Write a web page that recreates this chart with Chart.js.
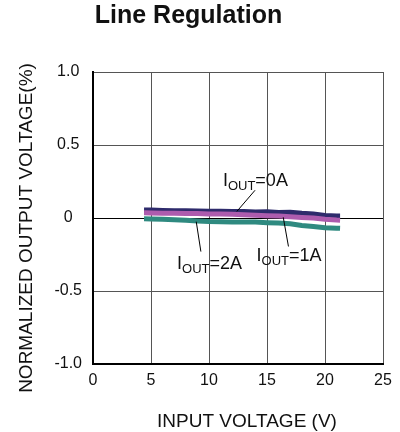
<!DOCTYPE html>
<html>
<head>
<meta charset="utf-8">
<script src="https://cdn.jsdelivr.net/npm/chart.js@4"></script>
<style>
  html, body { margin: 0; padding: 0; background: #fff; }
  canvas { display: block; }
</style>
</head>
<body>
<canvas id="canvas" width="400" height="432"></canvas>
<script>
'use strict';

// input voltage (V)
const vin = [4.4, 5, 6, 7, 8, 9, 10, 11, 12, 13, 14, 15, 16, 17, 18, 19, 20, 21, 21.3];
// normalized output voltage (%)
const iout0A = [0.055, 0.055, 0.052, 0.050, 0.050, 0.048, 0.047, 0.046, 0.044, 0.045, 0.041, 0.043, 0.038, 0.040, 0.032, 0.028, 0.018, 0.014, 0.014];
const iout1A = [0.036, 0.035, 0.033, 0.032, 0.031, 0.030, 0.028, 0.027, 0.025, 0.022, 0.019, 0.016, 0.013, 0.008, 0.004, 0.000, -0.008, -0.014, -0.015];
const iout2A = [-0.005, -0.006, -0.008, -0.012, -0.016, -0.020, -0.024, -0.026, -0.027, -0.028, -0.028, -0.032, -0.035, -0.040, -0.052, -0.058, -0.066, -0.070, -0.071];

const seriesNames = ['0A', '1A', '2A'];
const yTickLabels = { '1': '1.0', '0.5': '0.5', '0': '0', '-0.5': '-0.5', '-1': '-1.0' };

const chartTitle = 'Line Regulation';
const xTitle = 'INPUT VOLTAGE (V)';
const yTitle = 'NORMALIZED OUTPUT VOLTAGE(%)';

const FONT = 'Liberation Sans, Arial, Helvetica, sans-serif';

const pts = (ys) => vin.map((x, i) => ({ x: x, y: ys[i] }));

// label callouts: text anchor (data coords) and leader line ends
const callouts = [
  { name: seriesNames[0], tx: 11.2, ty: 0.216, from: [13.97, 0.19], to: [12.4, 0.045] },
  { name: seriesNames[1], tx: 14.1, ty: -0.294, from: [16.4, 0.005], to: [16.85, -0.195] },
  { name: seriesNames[2], tx: 7.25, ty: -0.35, from: [8.9, -0.025], to: [9.3, -0.23] },
];

const calloutPlugin = {
  id: 'callouts',
  afterDatasetsDraw(chart) {
    const { ctx, scales: { x, y } } = chart;
    ctx.save();
    ctx.strokeStyle = '#000';
    ctx.lineWidth = 1;
    ctx.fillStyle = '#111';
    ctx.textBaseline = 'alphabetic';
    ctx.textAlign = 'left';
    callouts.forEach((c) => {
      ctx.beginPath();
      ctx.moveTo(x.getPixelForValue(c.from[0]), y.getPixelForValue(c.from[1]));
      ctx.lineTo(x.getPixelForValue(c.to[0]), y.getPixelForValue(c.to[1]));
      ctx.stroke();

      let px = x.getPixelForValue(c.tx);
      const py = y.getPixelForValue(c.ty);
      ctx.font = '18px ' + FONT;
      ctx.fillText('I', px, py);
      px += ctx.measureText('I').width;
      ctx.font = '13px ' + FONT;
      ctx.fillText('OUT', px, py + 4);
      px += ctx.measureText('OUT').width;
      ctx.font = '18px ' + FONT;
      ctx.fillText('=' + c.name, px, py);
    });
    ctx.restore();
  },
};

// chart title and axis titles, placed where the original figure has them
const titlesPlugin = {
  id: 'titles',
  afterDraw(chart) {
    const { ctx } = chart;
    ctx.save();
    ctx.fillStyle = '#111';
    ctx.textBaseline = 'alphabetic';
    ctx.textAlign = 'center';

    ctx.font = 'bold 25px ' + FONT;
    ctx.fillText(chartTitle, 188.5, 23);

    ctx.font = '19px ' + FONT;
    ctx.fillText(xTitle, 247, 427);

    ctx.translate(32, 228);
    ctx.rotate(-Math.PI / 2);
    ctx.fillText(yTitle, 0, 0);
    ctx.restore();
  },
};

const ctx = document.getElementById('canvas').getContext('2d');

new Chart(ctx, {
  type: 'line',
  data: {
    datasets: [
      { label: 'IOUT=0A', data: pts(iout0A), borderColor: '#2e2b6c', order: 2 },
      { label: 'IOUT=1A', data: pts(iout1A), borderColor: '#ad5cae', order: 0 },
      { label: 'IOUT=2A', data: pts(iout2A), borderColor: '#2f8a80', order: 1 },
    ],
  },
  options: {
    responsive: false,
    animation: false,
    layout: { padding: { left: 2, right: 17, top: 72, bottom: 0 } },
    elements: {
      point: { radius: 0 },
      line: { borderWidth: 5, tension: 0 },
    },
    scales: {
      x: {
        type: 'linear',
        min: 0,
        max: 25,
        ticks: { stepSize: 5, color: '#111', font: { family: FONT, size: 16 }, padding: 7 },
        grid: {
          color: '#555',
          lineWidth: 1,
          drawTicks: false,
          tickLength: 0,
        },
        border: { color: '#000', width: 2 },
        afterFit(scale) { scale.height = 68; },
      },
      y: {
        min: -1,
        max: 1,
        ticks: {
          stepSize: 0.5,
          color: '#111',
          font: { family: FONT, size: 16 },
          padding: 11,
          crossAlign: 'center',
          callback: (v) => yTickLabels[String(v)],
        },
        grid: {
          color: (c) => (c.tick && c.tick.value === 0 ? '#000' : '#555'),
          lineWidth: 1,
          drawTicks: false,
          tickLength: 0,
        },
        border: { color: '#000', width: 2 },
        afterFit(scale) { scale.width = 91; },
      },
    },
    plugins: {
      legend: { display: false },
      tooltip: { enabled: false },
      title: { display: false },
    },
  },
  plugins: [calloutPlugin, titlesPlugin],
});
</script>
</body>
</html>
